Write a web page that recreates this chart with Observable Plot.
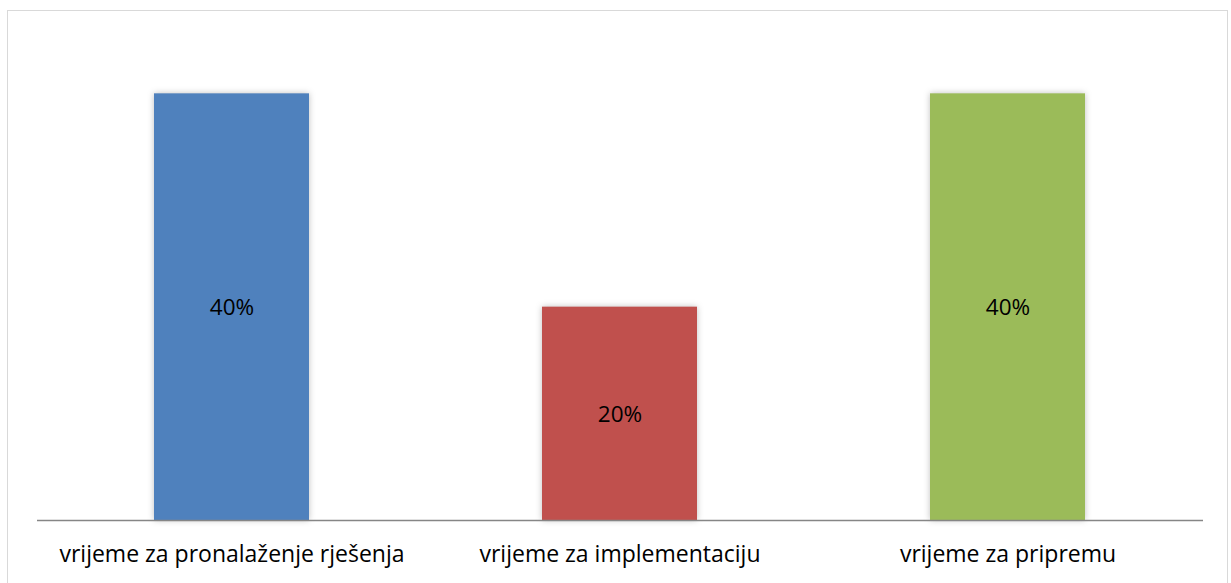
<!DOCTYPE html>
<html>
<head>
<meta charset="utf-8">
<script src="https://cdn.jsdelivr.net/npm/d3@7"></script>
<script src="https://cdn.jsdelivr.net/npm/@observablehq/plot@0.6"></script>
<style>
  html, body { margin: 0; padding: 0; background: #fff; }
  #wrap { position: relative; width: 1231px; height: 583px; overflow: hidden; }
  #border { position: absolute; left: 7px; top: 10px; width: 1221px; height: 600px; border: 1.5px solid #d9d9d9; box-sizing: border-box; }
  #chart { position: absolute; left: 0; top: 0; }
  .bars rect { filter: drop-shadow(0px 0px 3px rgba(0,0,0,0.25)); }
</style>
</head>
<body>
<div id="wrap"><div id="border"></div><div id="chart"></div></div>
<script>
const categories = ["vrijeme za pronalaženje rješenja", "vrijeme za implementaciju", "vrijeme za pripremu"];
const values = [0.40, 0.20, 0.40];
const labels = ["40%", "20%", "40%"];
const colors = ["#4F81BD", "#C0504D", "#9BBB59"];

const data = categories.map((c, i) => ({category: c, value: values[i], label: labels[i], color: colors[i]}));

const font = "'Open Sans', sans-serif";
const chart = Plot.plot({
  width: 1231,
  height: 583,
  marginLeft: 37,
  marginRight: 28,
  marginTop: 40,
  marginBottom: 63,
  style: {fontFamily: font, background: "transparent"},
  x: {domain: categories, paddingInner: 0.6, paddingOuter: 0.3, label: null},
  y: {domain: [0, 0.45], axis: null},
  marks: [
    Plot.barY(data, {x: "category", y: "value", fill: "color", className: "bars"}),
    Plot.ruleY([0], {stroke: "#868686", strokeWidth: 1.5}),
    Plot.text(data, {x: "category", y: d => d.value / 2, text: "label", fontSize: 22.5, fill: "#000", dy: 1}),
    Plot.axisX({tickSize: 0, tickPadding: 25, fontSize: 23, fill: "#000", label: null})
  ]
});
document.getElementById("chart").appendChild(chart);
</script>
</body>
</html>
